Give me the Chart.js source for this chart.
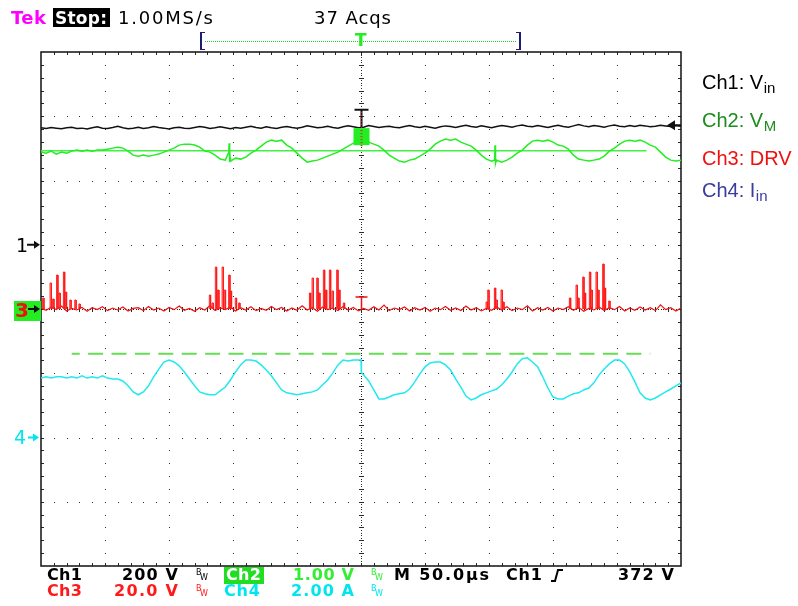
<!DOCTYPE html>
<html><head><meta charset="utf-8">
<script src="https://cdn.jsdelivr.net/npm/chart.js@4.4.1/dist/chart.umd.min.js"></script>
<style>
html,body{margin:0;padding:0;background:#fff;}
#wrap{position:relative;width:798px;height:606px;overflow:hidden;font-family:"Liberation Sans",Arial,sans-serif;}
#c{position:absolute;left:0;top:0;}
.t{position:absolute;white-space:nowrap;}
</style></head><body>
<div id="wrap"><canvas id="c" width="798" height="606"></canvas></div>
<script>
// ---------------- data ----------------
const timeStart = -250;          // µs at left edge
const timeEnd = 250;             // µs at right edge
const sampleStep = 4;            // µs between stored samples
const timePerDiv = 50;           // M 50.0 µs
const divX = 10, divY = 8;

const ch1PerDiv = 200, ch1Ground = 1;    // V/div, ground marker position (div)
const ch2PerDiv = 1,   ch2Ground = 0;
const ch3PerDiv = 20,  ch3Ground = 0;
const ch4PerDiv = 2,   ch4Ground = -2;   // A/div
const trigLevel = 372;                   // V on Ch1

const ch1Volts = [
364,362,365,363,361,364,366,362,363,360,
364,367,363,362,365,369,364,361,363,366,
362,364,368,365,363,360,364,366,363,362,
365,368,366,362,364,367,364,361,365,363,
366,369,365,363,367,364,362,366,368,365,
363,366,370,367,364,366,369,365,363,367,
370,367,364,366,371,368,365,367,369,366,
364,368,371,367,365,369,366,363,367,370,
368,365,369,372,368,366,370,367,364,368,
371,369,366,370,373,369,367,371,368,365,
369,372,368,366,370,374,370,367,371,369,
366,370,373,369,367,371,368,372,370,367,
369,372,370,368,371,369];

const ch2Volts = [
2.442,2.426,2.457,2.411,2.442,2.426,2.457,2.473,2.457,2.473,
2.457,2.473,2.473,2.488,2.504,2.519,2.504,2.457,2.395,2.379,
2.395,2.379,2.395,2.411,2.442,2.473,2.504,2.551,2.566,2.566,
2.551,2.519,2.457,2.442,2.395,2.333,2.317,2.302,2.348,2.333,
2.364,2.426,2.473,2.535,2.597,2.628,2.613,2.628,2.551,2.504,
2.426,2.348,2.286,2.302,2.317,2.348,2.379,2.411,2.442,2.488,
2.535,2.582,2.597,2.613,2.597,2.566,2.535,2.473,2.395,2.348,
2.302,2.286,2.317,2.333,2.379,2.426,2.488,2.566,2.613,2.644,
2.628,2.644,2.597,2.566,2.535,2.473,2.395,2.333,2.302,2.317,
2.286,2.317,2.364,2.426,2.473,2.551,2.613,2.628,2.613,2.628,
2.597,2.551,2.535,2.488,2.395,2.333,2.317,2.302,2.317,2.333,
2.379,2.457,2.504,2.566,2.613,2.628,2.613,2.628,2.597,2.551,
2.519,2.442,2.364,2.317,2.302,2.317];
const ch2GlitchTimes = [-103.3,-103.0,-102.6,-102.2, 104.4,104.7,105.1,105.5];
const ch2GlitchVolts = [2.44,2.58,2.29,2.35, 2.32,2.55,2.27,2.30];
const ch2CursorTimes = [-250, 223];
const ch2CursorVolts = [2.462, 2.462];
const limitTimes = [-226, 226];
const limitVolts = [-0.695, -0.695];

const ch3NoiseVolts = [
0.3,-0.4,0.6,-0.2,0.9,-0.6,0.2,-0.3,0.5,-0.7,
0.4,-0.2,0.7,-0.5,0.3,-0.3,0.6,-0.6,0.2,0.4,
-0.5,0.8,-0.3,0.3,-0.6,0.5,-0.2,0.9,-0.4,0.2,
-0.7,0.4,-0.3,1.1,-0.5,0.3,-0.2,0.6,-0.6,0.4,
-0.3,0.7,-0.5,0.2,-0.4,0.8,-0.2,0.5,-0.6,0.3,
-0.4,1.0,-0.3,0.4,-0.7,0.6,-0.2,0.3,-0.5,0.8,
-0.3,0.5,-0.6,0.2,-0.4,0.7,-0.3,1.2,-0.5,0.3,
-0.2,0.6,-0.6,0.4,-0.3,0.5,-0.7,0.3,-0.2,0.8,
-0.4,0.3,-0.5,0.9,-0.3,0.4,-0.6,0.2,-0.4,0.6,
-0.3,0.7,-0.5,0.3,-0.2,1.0,-0.6,0.4,-0.3,0.5,
-0.6,0.3,-0.2,0.7,-0.4,0.5,-0.7,0.2,-0.3,0.6,
-0.5,0.4,-0.2,0.8,-0.6,0.3,-0.4,0.6,-0.3,0.4,
-0.5,1.3,-0.2,0.4,-0.6,0.3];
const ch3SpikeTimes = [
-248.2,-242.4,-240.4,-237.3,-235.5,-232.0,-230.5,-227.0,-223.1,-219.9,
-118.0,-115.9,-113.3,-111.5,-108.0,-106.3,-102.9,-101.6,-97.7,-95.1,
-39.8,-37.7,-34.1,-32.6,-28.9,-27.3,-24.2,-22.1,-18.5,-17.0,-13.3,
98.2,99.5,104.7,106.0,109.9,111.2,
163.3,168.5,169.8,173.7,175.0,178.9,180.2,184.1,185.4,189.3,190.6,194.0];
const ch3SpikeVolts = [
3.42,8.09,3.11,10.57,4.98,11.51,5.29,2.80,2.80,1.56,
4.35,1.87,13.06,5.91,13.06,5.91,10.57,5.60,3.42,1.87,
4.98,9.64,9.64,4.98,12.13,5.91,12.13,5.60,12.13,5.91,1.87,
2.18,5.91,6.53,2.80,5.91,2.18,
3.42,7.46,3.42,9.95,4.98,11.51,5.91,11.51,5.91,14.0,6.53,2.49];

const ch4Amps = [
1.85,1.89,1.85,1.89,1.89,1.85,1.89,1.85,1.92,1.85,
1.89,1.85,1.92,1.85,1.82,1.82,1.76,1.61,1.42,1.33,
1.42,1.61,1.89,2.13,2.35,2.41,2.35,2.23,2.04,1.82,
1.61,1.42,1.36,1.33,1.33,1.45,1.57,1.79,2.04,2.26,
2.41,2.41,2.38,2.26,2.10,1.92,1.70,1.48,1.39,1.36,
1.33,1.36,1.39,1.42,1.48,1.64,1.79,2.01,2.26,2.41,
2.38,2.41,2.41,1.95,1.76,1.48,1.20,1.20,1.26,1.33,
1.36,1.39,1.51,1.73,1.98,2.20,2.32,2.35,2.35,2.26,
2.10,1.82,1.57,1.29,1.17,1.23,1.33,1.39,1.45,1.51,
1.64,1.82,2.04,2.29,2.45,2.48,2.35,2.20,1.89,1.54,
1.26,1.20,1.20,1.29,1.36,1.39,1.48,1.54,1.70,1.95,
2.13,2.29,2.41,2.41,2.29,2.04,1.73,1.39,1.23,1.17,
1.23,1.33,1.42,1.51,1.61,1.70];
const ch4StepTimes = [0, 0.3];
const ch4StepAmps = [2.41, 2.01];

// ---------------- helpers ----------------
const toDiv = (v, per, g) => v / per + g;
const sampleTime = i => timeStart + i * sampleStep;
function series(values, per, g, extraT = [], extraV = []) {
  const pts = values.map((v, i) => ({x: sampleTime(i), y: toDiv(v, per, g)}));
  extraT.forEach((t, i) => pts.push({x: t, y: toDiv(extraV[i], per, g)}));
  pts.sort((a, b) => a.x - b.x);
  return pts;
}
function pairs(ts, vs, per, g) { return ts.map((t, i) => ({x: t, y: toDiv(vs[i], per, g)})); }

const ch3Spikes = [];
ch3SpikeTimes.forEach((t, i) => {
  const base = toDiv(0, ch3PerDiv, ch3Ground), top = toDiv(ch3SpikeVolts[i], ch3PerDiv, ch3Ground);
  ch3Spikes.push({x: t - 0.5, y: base}, {x: t - 0.5, y: top}, {x: t + 0.5, y: top}, {x: t + 0.5, y: base}, {x: t + 0.5, y: null});
});

// ---------------- graticule ----------------
const graticule = {
  id: 'graticule',
  beforeDatasetsDraw(chart) {
    const {ctx, chartArea: a, scales: {x, y}} = chart;
    const X = v => Math.round(x.getPixelForValue(v)), Y = v => Math.round(y.getPixelForValue(v));
    const dx = timePerDiv;
    ctx.save();
    ctx.fillStyle = '#2a2a2a';
    for (let k = 1; k < divX; k++) {
      if (k === divX / 2) continue;
      const px = X(timeStart + k * dx);
      for (let m = 1; m < divY * 5; m++) ctx.fillRect(px, Y(-divY / 2 + m / 5), 1, 1);
    }
    for (let k = 1; k < divY; k++) {
      if (k === divY / 2) continue;
      const py = Y(-divY / 2 + k);
      for (let m = 1; m < divX * 5; m++) ctx.fillRect(X(timeStart + m * dx / 5), py, 1, 1);
    }
    const cx = X(0), cy = Y(0);
    for (let m = 1; m < divY * 25; m++) ctx.fillRect(cx, Y(-divY / 2 + m / 25), 1, 1);
    for (let m = 1; m < divX * 25; m++) ctx.fillRect(X(timeStart + m * dx / 25), cy, 1, 1);
    for (let m = 1; m < divY * 5; m++) ctx.fillRect(cx - 2, Y(-divY / 2 + m / 5), 5, 1);
    for (let m = 1; m < divX * 5; m++) ctx.fillRect(X(timeStart + m * dx / 5), cy - 2, 1, 5);
    for (let m = 1; m < divX * 5; m++) {
      const px = X(timeStart + m * dx / 5);
      ctx.fillRect(px, a.top, 1, 3); ctx.fillRect(px, a.bottom - 3, 1, 3);
    }
    for (let m = 1; m < divY * 5; m++) {
      const py = Y(-divY / 2 + m / 5);
      ctx.fillRect(a.left, py, 3, 1); ctx.fillRect(a.right - 3, py, 3, 1);
    }
    ctx.strokeStyle = '#111'; ctx.lineWidth = 1.5;
    ctx.strokeRect(a.left, a.top, a.right - a.left, a.bottom - a.top);
    ctx.restore();
  }
};

function arrowRight(ctx, x0, x1, yy, color) {
  ctx.strokeStyle = color; ctx.fillStyle = color; ctx.lineWidth = 2;
  ctx.beginPath(); ctx.moveTo(x0, yy); ctx.lineTo(x1 - 4, yy); ctx.stroke();
  ctx.beginPath(); ctx.moveTo(x1, yy); ctx.lineTo(x1 - 6, yy - 4); ctx.lineTo(x1 - 6, yy + 4); ctx.closePath(); ctx.fill();
}

const overlays = {
  id: 'overlays',
  afterDatasetsDraw(chart) {
    const {ctx, chartArea: a, scales: {x, y}} = chart;
    const cx = Math.round(x.getPixelForValue(0)) + 0.5;
    ctx.save();
    // Ch1 marker at trigger point
    const t1 = y.getPixelForValue(3.1), b1 = y.getPixelForValue(2.82);
    ctx.strokeStyle = '#111'; ctx.lineWidth = 2;
    ctx.beginPath(); ctx.moveTo(cx - 7, t1); ctx.lineTo(cx + 7, t1); ctx.moveTo(cx, t1); ctx.lineTo(cx, b1); ctx.stroke();
    ctx.strokeStyle = '#e22'; ctx.lineWidth = 1; ctx.setLineDash([1, 2]);
    ctx.beginPath(); ctx.moveTo(cx, t1 + 2); ctx.lineTo(cx, b1); ctx.stroke(); ctx.setLineDash([]);
    // Ch2 marker box
    const g1 = y.getPixelForValue(2.815), g2 = y.getPixelForValue(2.55);
    ctx.fillStyle = '#22ee22'; ctx.fillRect(cx - 8, g1, 16, g2 - g1);
    ctx.fillStyle = '#c33'; for (let yy = g1 + 2; yy < g2; yy += 3) ctx.fillRect(cx - 1, yy, 2, 1);
    // Ch3 marker
    const r1 = y.getPixelForValue(0.187), r0 = y.getPixelForValue(0);
    ctx.strokeStyle = '#ee1111'; ctx.lineWidth = 1.5;
    ctx.beginPath(); ctx.moveTo(cx - 6, r1); ctx.lineTo(cx + 6, r1); ctx.moveTo(cx, r1); ctx.lineTo(cx, r0); ctx.stroke();
    // trigger level arrow (right edge)
    const ty = y.getPixelForValue(toDiv(trigLevel, ch1PerDiv, ch1Ground));
    ctx.fillStyle = '#111'; ctx.strokeStyle = '#111'; ctx.lineWidth = 2;
    ctx.beginPath(); ctx.moveTo(a.right - 14, ty); ctx.lineTo(a.right - 6, ty - 5); ctx.lineTo(a.right - 6, ty + 5); ctx.closePath(); ctx.fill();
    ctx.beginPath(); ctx.moveTo(a.right - 7, ty); ctx.lineTo(a.right, ty); ctx.stroke();
    // ground markers on the left
    const y1 = y.getPixelForValue(ch1Ground), y3 = y.getPixelForValue(ch3Ground), y4 = y.getPixelForValue(ch4Ground);
    arrowRight(ctx, a.left - 14, a.left - 1, y1, '#111');
    ctx.fillStyle = '#22ee22'; ctx.fillRect(14, y3 - 8, a.left - 14, 20);
    arrowRight(ctx, a.left - 13, a.left - 1, y3, '#111');
    arrowRight(ctx, a.left - 13, a.left - 2, y4, '#00e5ee');
    ctx.restore();
  }
};

const ctx = document.getElementById('c').getContext('2d');
const chart = new Chart(ctx, {
  type: 'line',
  data: {
    datasets: [
      {label: 'Ch1', data: series(ch1Volts, ch1PerDiv, ch1Ground), borderColor: '#111', borderWidth: 1.5},
      {label: 'Ch2', data: series(ch2Volts, ch2PerDiv, ch2Ground, ch2GlitchTimes, ch2GlitchVolts), borderColor: '#22ee22', borderWidth: 1.5},
      {label: 'Ch2 cursor', data: pairs(ch2CursorTimes, ch2CursorVolts, ch2PerDiv, ch2Ground), borderColor: '#44ee44', borderWidth: 1.5},
      {label: 'Limit', data: pairs(limitTimes, limitVolts, ch2PerDiv, ch2Ground), borderColor: '#66dd55', borderWidth: 2, borderDash: [15, 8.4], borderDashOffset: 7},
      {label: 'Ch3 spikes', data: ch3Spikes, borderColor: '#ff1a1a', borderWidth: 1, spanGaps: false},
      {label: 'Ch3', data: series(ch3NoiseVolts, ch3PerDiv, ch3Ground), borderColor: '#ee1111', borderWidth: 1.2},
      {label: 'Ch4', data: series(ch4Amps, ch4PerDiv, ch4Ground, ch4StepTimes, ch4StepAmps), borderColor: '#22e8f0', borderWidth: 1.5}
    ]
  },
  options: {
    responsive: false, animation: false, devicePixelRatio: 1,
    layout: {padding: {left: 41, right: 117, top: 52, bottom: 40}},
    scales: {
      x: {type: 'linear', min: timeStart, max: timeEnd, display: false},
      y: {type: 'linear', min: -divY / 2, max: divY / 2, display: false}
    },
    elements: {point: {radius: 0}, line: {tension: 0, fill: false}},
    plugins: {legend: {display: false}, tooltip: {enabled: false}}
  },
  plugins: [graticule, overlays]
});

// ---------------- texts ----------------
const wrap = document.getElementById('wrap');
function addText(txt, left, base, size, color, o = {}) {
  const s = document.createElement('span');
  s.className = 't';
  s.textContent = txt;
  s.style.fontSize = size + 'px';
  s.style.lineHeight = size + 'px';
  s.style.color = color;
  s.style.left = left + 'px';
  s.style.top = (base - 0.846 * size) + 'px';
  if (o.bold) s.style.fontWeight = 'bold';
  s.style.fontFamily = o.family || '"Liberation Sans", Arial, sans-serif';
  wrap.appendChild(s);
  if (o.width) {
    const w = s.getBoundingClientRect().width;
    const n = [...txt].length;
    if (n > 1) s.style.letterSpacing = ((o.width - w) / (n - 1)) + 'px';
  }
  return s;
}
function box(l, t, w, h, color) {
  const d = document.createElement('div');
  d.style.cssText = `position:absolute;left:${l}px;top:${t}px;width:${w}px;height:${h}px;background:${color};`;
  wrap.appendChild(d); return d;
}
const TF = '"DejaVu Sans", sans-serif';

// header
addText('Tek', 11, 24, 18, '#ff00ff', {bold: true, family: TF, width: 35});
box(53, 8, 57, 19, '#000');
addText('Stop:', 55, 24, 17, '#fff', {bold: true, family: TF, width: 52});
addText('1.00MS/s', 118, 24, 18, '#000', {family: TF, width: 95});
addText('37 Acqs', 314, 24, 18, '#000', {family: TF, width: 77});
// record bar
const br1 = document.createElement('div');
br1.style.cssText = 'position:absolute;left:200px;top:32px;width:3px;height:16px;border-left:2px solid #1c1c70;border-top:1px solid #1c1c70;border-bottom:1px solid #1c1c70;';
wrap.appendChild(br1);
const br2 = document.createElement('div');
br2.style.cssText = 'position:absolute;left:516px;top:32px;width:3px;height:16px;border-right:2px solid #1c1c70;border-top:1px solid #1c1c70;border-bottom:1px solid #1c1c70;';
wrap.appendChild(br2);
const dl = document.createElement('div');
dl.style.cssText = 'position:absolute;left:205px;top:41px;width:311px;height:1px;background:repeating-linear-gradient(90deg,#22cc22 0 1px,transparent 1px 2px);';
wrap.appendChild(dl);
addText('T', 355, 46, 17, '#22ee22', {bold: true, family: TF});

// legend
function legend(main, sub, base, color) {
  const s = addText(main, 702, base, 20, color);
  if (sub) addText(sub, 702 + s.getBoundingClientRect().width + 0.5, base + 4, 15, color);
}
legend('Ch1: V', 'in', 89, '#000');
legend('Ch2: V', 'M', 127, '#1e8c1e');
legend('Ch3: DRV', '', 165, '#f01010');
legend('Ch4: I', 'in', 197, '#3a3aa0');

// left ground marker labels
addText('1', 16, chart.scales.y.getPixelForValue(ch1Ground) + 7, 19, '#000', {family: TF});
addText('3', 15, chart.scales.y.getPixelForValue(ch3Ground) + 8, 20, '#ee1111', {bold: true, family: TF});
addText('4', 14, chart.scales.y.getPixelForValue(ch4Ground) + 7, 19, '#00e5ee', {family: TF});

// footer
function bw(x, base, color) {
  addText('B', x, base - 5, 8, color, {family: TF});
  addText('W', x + 4, base, 8, color, {family: TF});
}
const FB = {family: TF, bold: true};
const r1 = 581, r2 = 597;
addText('Ch1', 47, r1, 16, '#000', {...FB, width: 35});
addText('200 V', 122, r1, 16, '#000', {...FB, width: 56});
bw(196, r1, '#000');
box(224, 567, 40, 17, '#22dd22');
addText('Ch2', 226, r1, 16, '#fff', {...FB, width: 35});
addText('1.00 V', 293, r1, 16, '#33ee33', {...FB, width: 61});
bw(371, r1, '#33ee33');
addText('M 50.0µs', 394, r1, 16, '#000', {...FB, width: 95});
addText('Ch1', 506, r1, 16, '#000', {...FB, width: 36});
const svgNS = 'http://www.w3.org/2000/svg';
const sv = document.createElementNS(svgNS, 'svg');
sv.setAttribute('width', '20'); sv.setAttribute('height', '20');
sv.style.cssText = 'position:absolute;left:548px;top:566px;';
const pth = document.createElementNS(svgNS, 'path');
pth.setAttribute('d', 'M3 15 L7 15 L10 4 L15 4');
pth.setAttribute('stroke', '#000'); pth.setAttribute('stroke-width', '2'); pth.setAttribute('fill', 'none');
sv.appendChild(pth); wrap.appendChild(sv);
addText('372 V', 618, r1, 16, '#000', {...FB, width: 56});
addText('Ch3', 47, r2, 16, '#ff1a1a', {...FB, width: 35});
addText('20.0 V', 114, r2, 16, '#ff1a1a', {...FB, width: 64});
bw(196, r2, '#ff1a1a');
addText('Ch4', 224, r2, 16, '#00e5ee', {...FB, width: 36});
addText('2.00 A', 291, r2, 16, '#00e5ee', {...FB, width: 63});
bw(371, r2, '#00e5ee');
</script>
</body></html>
